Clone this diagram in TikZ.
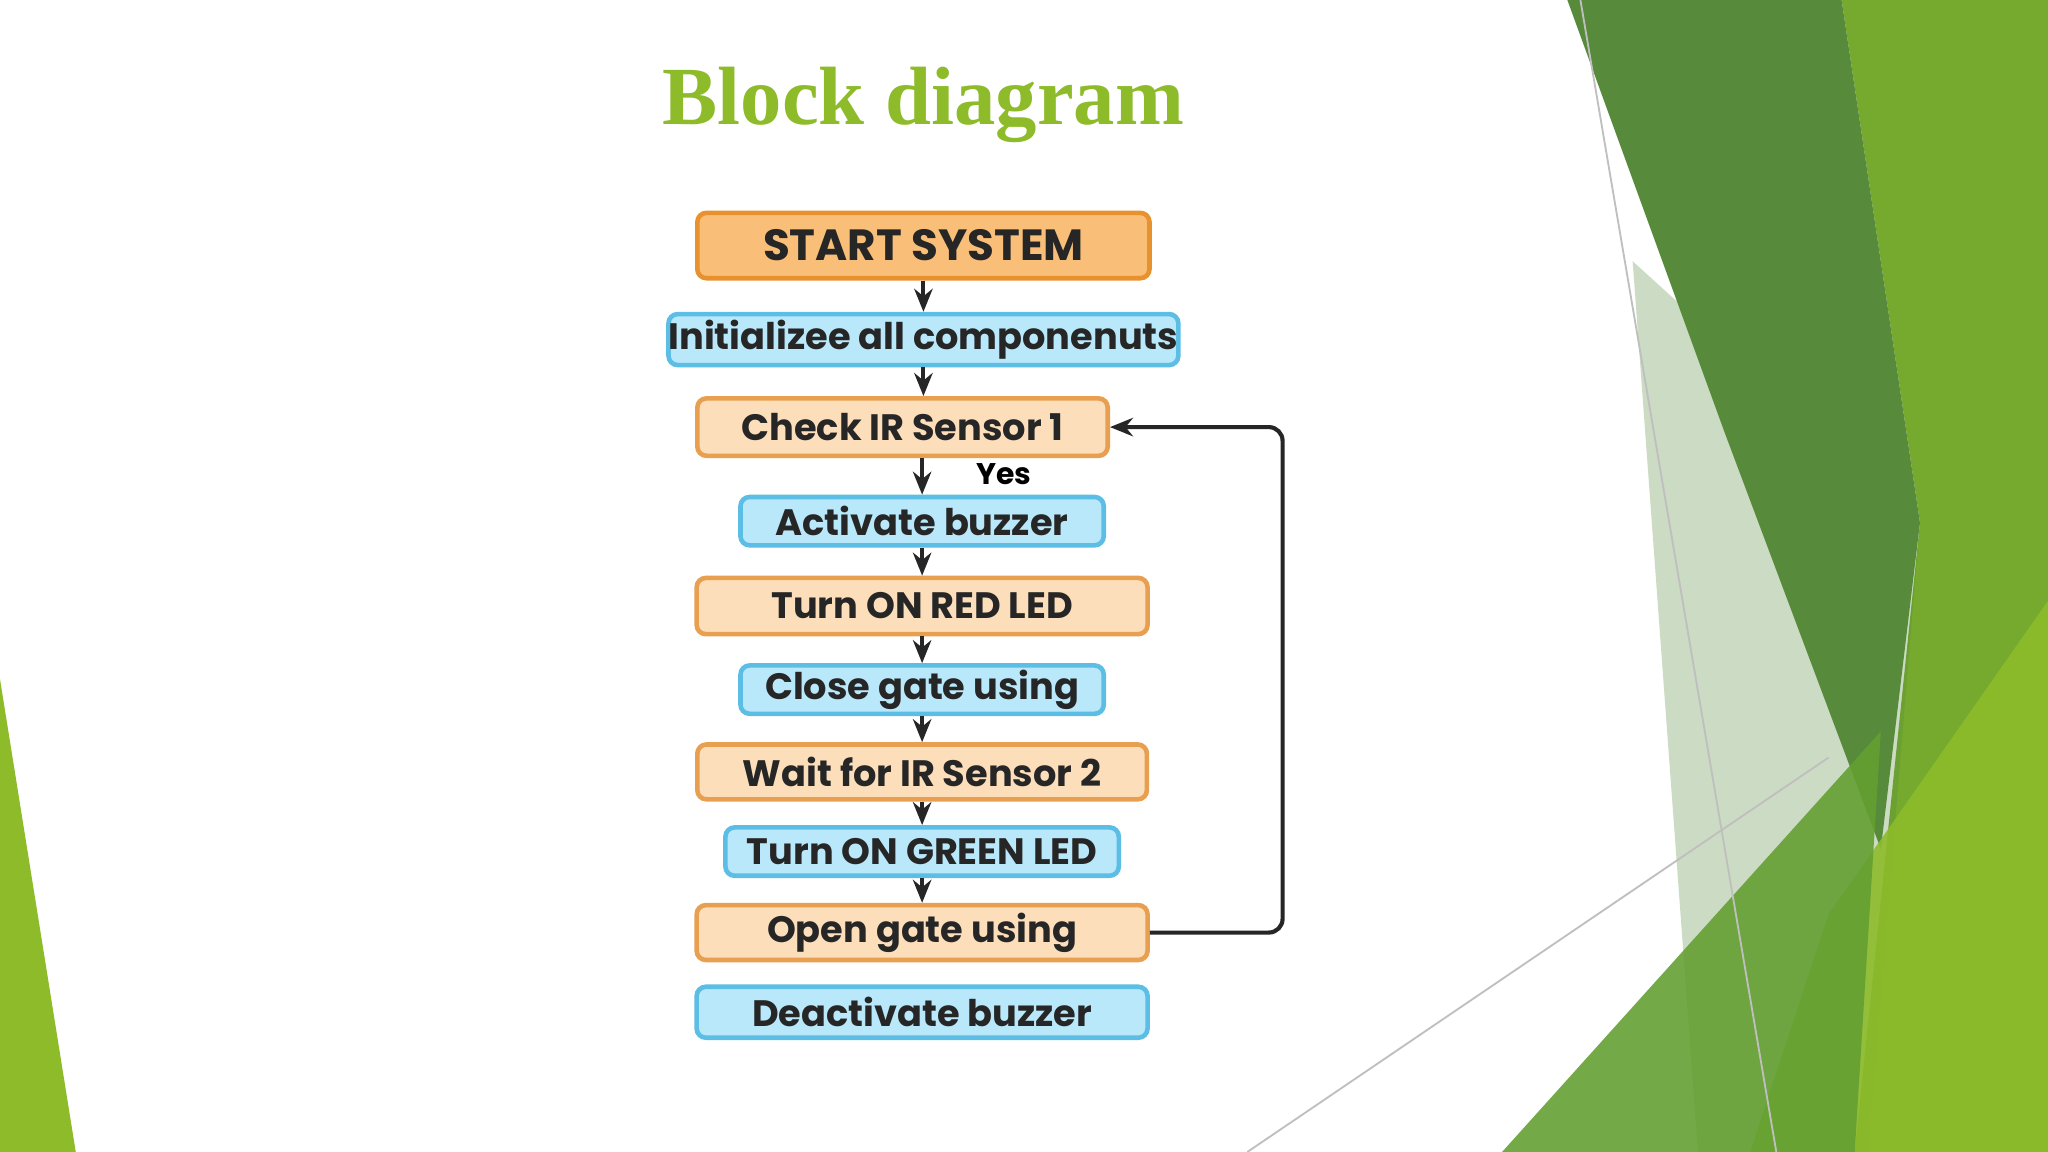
\documentclass[tikz,border=0pt]{standalone}
\usetikzlibrary{arrows.meta}
\usepackage{fontspec}
\setmainfont{Liberation Serif}
\newfontfamily\boxfont{Poppins}
\definecolor{gdark}{RGB}{88,138,60}
\definecolor{gmid}{RGB}{118,170,46}
\definecolor{gbright}{RGB}{141,187,42}
\definecolor{gdeep}{RGB}{100,160,50}
\begin{document}
\begin{tikzpicture}[x=0.01cm,y=-0.01cm,
  box/.style={draw, line width=1pt, rounded corners=2pt, inner sep=0pt, font=\boxfont\bfseries\fontsize{8}{10}\selectfont, text=black!85},
  ora/.style={box, fill={rgb,255:red,252;green,222;blue,186}, draw={rgb,255:red,232;green,160;blue,80}},
  blu/.style={box, fill={rgb,255:red,184;green,232;blue,250}, draw={rgb,255:red,92;green,190;blue,228}},
  arr/.style={-{Stealth[length=5pt,width=4pt]}, line width=0.9pt, draw=black!85}]
\useasboundingbox (0,0) rectangle (1568,882);
\fill[white] (0,0) rectangle (1568,882);
% decoration
\fill[gmid] (1410,0) -- (1568,0) -- (1568,882) -- (1420,882) -- (1470,400) -- cycle;
\fill[gdark] (1200,0) -- (1410,0) -- (1470,400) -- (1440,650) -- (1320,330) -- cycle;
\fill[gdark, opacity=0.3] (1250,200) -- (1470,400) -- (1430,882) -- (1300,882) -- cycle;
\fill[gbright, opacity=0.9] (1400,700) -- (1568,460) -- (1568,882) -- (1340,882) -- cycle;
\fill[gdeep, opacity=0.9] (1150,882) -- (1440,560) -- (1420,882) -- cycle;
\fill[gbright] (0,520) -- (58,882) -- (0,882) -- cycle;
\draw[gray!50, line width=0.4pt] (1210,0) -- (1360,882);
\draw[gray!50, line width=0.4pt] (955,882) -- (1400,580);
% title
\node[font=\bfseries\fontsize{18}{22}\selectfont, text=gbright] (title) at (707,80) {Block diagram};
% boxes
\node[box, fill={rgb,255:red,249;green,190;blue,120}, draw={rgb,255:red,232;green,145;blue,47}, minimum width=3.46cm, minimum height=0.5cm, font=\boxfont\bfseries\fontsize{9.5}{12}\selectfont] (n1) at (707,188) {START SYSTEM};
\node[blu, minimum width=3.72cm, minimum height=0.39cm] (n2) at (707,260) {Initializee all componenuts};
\node[ora, minimum width=3.14cm, minimum height=0.44cm] (n3) at (691,327) {Check IR Sensor 1};
\node[blu, minimum width=2.78cm, minimum height=0.37cm] (n4) at (706,399) {Activate buzzer};
\node[ora, minimum width=3.45cm, minimum height=0.43cm] (n5) at (706,464) {Turn ON RED LED};
\node[blu, minimum width=2.78cm, minimum height=0.37cm] (n6) at (706,528) {Close gate using};
\node[ora, minimum width=3.44cm, minimum height=0.42cm] (n7) at (706,591) {Wait for IR Sensor 2};
\node[blu, minimum width=3.01cm, minimum height=0.37cm] (n8) at (706,652) {Turn ON GREEN LED};
\node[ora, minimum width=3.45cm, minimum height=0.42cm] (n9) at (706,714) {Open gate using};
\node[blu, minimum width=3.45cm, minimum height=0.39cm] (n10) at (706,775) {Deactivate buzzer};
% arrows
\draw[arr] (n1.south) -- (n1.south |- n2.north);
\draw[arr] (n2.south) -- (n2.south |- n3.north);
\draw[arr] (n3.south -| n4.north) -- (n4.north) node[pos=0.45, right=8pt, font=\boxfont\bfseries\fontsize{6.5}{8}\selectfont] {Yes};
\draw[arr] (n4.south) -- (n5.north);
\draw[arr] (n5.south) -- (n6.north);
\draw[arr] (n6.south) -- (n7.north);
\draw[arr] (n7.south) -- (n8.north);
\draw[arr] (n8.south) -- (n9.north);
\coordinate (c1) at (982,714);
\coordinate (c2) at (982,327);
\draw[arr, rounded corners=3pt] (n9.east) -- (c1) -- (c2) -- (n3.east);
\end{tikzpicture}
\end{document}
